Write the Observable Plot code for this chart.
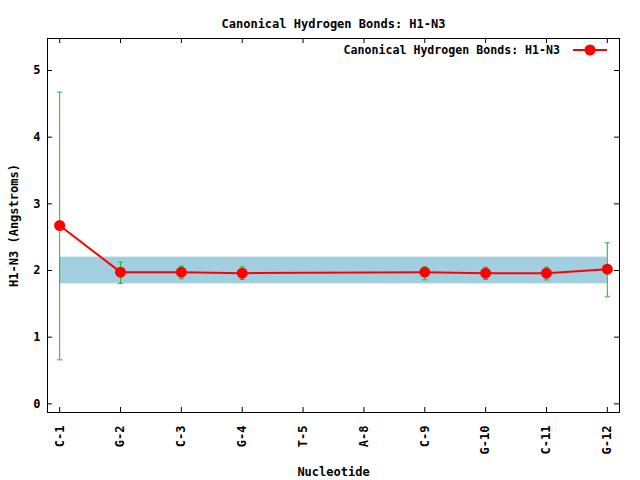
<!DOCTYPE html>
<html><head><meta charset="utf-8">
<script src="https://cdn.jsdelivr.net/npm/d3@7"></script>
<script src="https://cdn.jsdelivr.net/npm/@observablehq/plot@0.6"></script>
<style>
body{margin:0;background:#fff;}
#wrap{position:relative;width:640px;height:480px;font-family:"DejaVu Sans Mono",monospace;font-weight:bold;font-size:11.6px;}
#legend{position:absolute;top:43px;right:33px;display:flex;align-items:center;white-space:nowrap;}
#legend svg{margin-left:13px;}
</style></head>
<body><div id="wrap"><div id="legend"></div></div>
<script>
const title = "Canonical Hydrogen Bonds: H1-N3";
const seriesName = "Canonical Hydrogen Bonds: H1-N3";
const xLabel = "Nucleotide";
const yLabel = "H1-N3 (Angstroms)";
const nucleotides = ["C-1","G-2","C-3","G-4","T-5","A-8","C-9","G-10","C-11","G-12"];
const meanValues = [2.675, 1.975, 1.975, 1.96, null, null, 1.975, 1.96, 1.96, 2.02];
const lowerValues = [0.66, 1.805, 1.875, 1.865, null, null, 1.86, 1.865, 1.86, 1.605];
const upperValues = [4.675, 2.125, 2.065, 2.055, null, null, 2.055, 2.05, 2.05, 2.415];
const referenceBand = [1.8, 2.2];
const yTicks = [0, 1, 2, 3, 4, 5];

const red = "#ff0000", green = "#1cbc1c", bandColor = "#a2cfdf";
const data = nucleotides.map((n, i) => ({i, n, mean: meanValues[i], lo: lowerValues[i], hi: upperValues[i]}))
  .filter(d => d.mean != null);
const idx = nucleotides.map((n, i) => i);
const band = [{x1: 0, x2: nucleotides.length - 1, y1: referenceBand[0], y2: referenceBand[1]}];
const cap = {draw(ctx, size){ const r = Math.sqrt(size/Math.PI); ctx.moveTo(-r,0); ctx.lineTo(r,0); }};
const font = {fontFamily: "DejaVu Sans Mono", fontWeight: "bold", fontSize: 12};
const W = 640, H = 480, mL = 47, mR = 21, mT = 38, mB = 68, tick = 5;
const plotW = W - mL - mR, plotH = H - mT - mB;

const chart = Plot.plot({
  width: W, height: H,
  marginLeft: mL, marginRight: mR, marginTop: mT, marginBottom: mB,
  style: {fontFamily: "DejaVu Sans Mono", fontWeight: "bold", fontSize: "12px", background: "#fff", color: "#000"},
  x: {domain: [-0.2, nucleotides.length - 1 + 0.2]},
  y: {domain: [-0.13, 5.48]},
  marks: [
    Plot.rect(band, {x1: "x1", x2: "x2", y1: "y1", y2: "y2", fill: bandColor}),
    Plot.ruleX(data, {x: "i", y1: "lo", y2: "hi", stroke: green, strokeWidth: 1}),
    Plot.dot(data, {x: "i", y: "lo", symbol: cap, r: 2.5, stroke: green, strokeWidth: 1}),
    Plot.dot(data, {x: "i", y: "hi", symbol: cap, r: 2.5, stroke: green, strokeWidth: 1}),
    Plot.line(data, {x: "i", y: "mean", stroke: red, strokeWidth: 2}),
    Plot.dot(data, {x: "i", y: "mean", r: 5.5, fill: red, stroke: "none"}),
    Plot.axisY(yTicks, {anchor: "left", tickSize: 0, tickPadding: 7, tickFormat: d => String(d), label: null, ...font}),
    Plot.ruleY(yTicks, {y: d => d, insetRight: plotW - tick, stroke: "#000"}),
    Plot.ruleY(yTicks, {y: d => d, insetLeft: plotW - tick, stroke: "#000"}),
    Plot.axisX(idx, {anchor: "bottom", tickSize: 0, tickPadding: 13, tickRotate: -90, tickFormat: i => nucleotides[i], label: null, ...font}),
    Plot.ruleX(idx, {x: d => d, insetTop: plotH - tick, stroke: "#000"}),
    Plot.ruleX(idx, {x: d => d, insetBottom: plotH - tick, stroke: "#000"}),
    Plot.frame({stroke: "#000", strokeWidth: 1}),
    Plot.text([title], {frameAnchor: "top", dy: -19, textAnchor: "middle", text: d => d, ...font}),
    Plot.text([xLabel], {frameAnchor: "bottom", dy: 63, textAnchor: "middle", text: d => d, ...font}),
    Plot.text([yLabel], {frameAnchor: "left", dx: -33, rotate: -90, textAnchor: "middle", text: d => d, ...font})
  ]
});
document.getElementById("wrap").appendChild(chart);
const lg = document.getElementById("legend");
const sp = document.createElement("span"); sp.textContent = seriesName; lg.appendChild(sp);
lg.insertAdjacentHTML("beforeend", `<svg width="34" height="12"><line x1="0" x2="34" y1="6" y2="6" stroke="${red}" stroke-width="2"/><circle cx="17" cy="6" r="5.5" fill="${red}"/></svg>`);
</script></body></html>
